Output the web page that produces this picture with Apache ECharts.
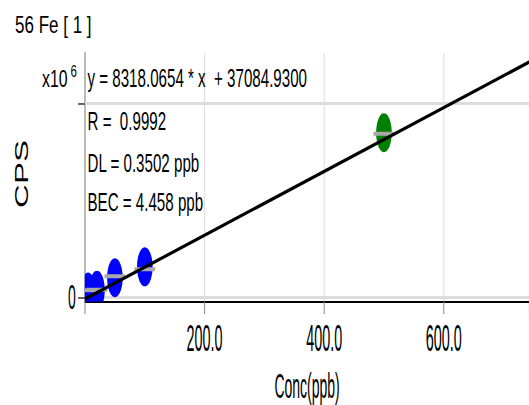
<!DOCTYPE html>
<html><head><meta charset="utf-8">
<script src="https://cdn.jsdelivr.net/npm/echarts@6/dist/echarts.min.js"></script>
<style>
html,body{margin:0;padding:0;overflow:hidden;background:#fff;width:529px;height:405px;}
#wrap{width:1323px;height:405px;transform:scaleX(0.4);transform-origin:0 0;}
</style></head><body>
<div id="wrap"></div>
<script>
// ---- data ----
const concStd = [5, 20, 50, 100, 500];                 // ppb
const cpsMarker = [140000, 190000, 510000, 790000, 4250000];
const cpsBar = [190000, 200000, 550000, 730000, 4220000];
const fitConc = [0, 743];
const fitCps = [-40000, 6070000];
const yTickValues = [0, 5000000];
const yLabelValues = [0];
const hGridValues = [0, 5000000];
const titleText = '56 Fe [ 1 ]';
const statLines = ['y = 8318.0654 * x  + 37084.9300', 'R =  0.9992', 'DL = 0.3502 ppb', 'BEC = 4.458 ppb'];
const xName = 'Conc(ppb)';
const yName = 'CPS';
const yUnit = 'x10';
const yUnitExp = '6';

// ---- styles ----
const SX = 0.4;
const FONT = 'Liberation Sans';
const pointColors = ['#0000ff', '#0000ff', '#0000ff', '#0000ff', '#008000'];
const statY = [77.5, 121, 162.5, 201.5];

const chart = echarts.init(document.getElementById('wrap'), null, {renderer: 'svg'});

const graphics = [
  {type: 'text', x: 15 / SX, y: 25, scaleX: 0.74 / SX, z: 100,
   style: {text: titleText, fontSize: 23, fontFamily: FONT, fill: '#000', align: 'left', verticalAlign: 'middle'}},
  {type: 'text', x: 42 / SX, y: 78.5, scaleX: 0.69 / SX, z: 100,
   style: {text: yUnit, fontSize: 23, fontFamily: FONT, fill: '#000', align: 'left', verticalAlign: 'middle'}},
  {type: 'text', x: 70.5 / SX, y: 71, scaleX: 0.72 / SX, z: 100,
   style: {text: yUnitExp, fontSize: 16, fontFamily: FONT, fill: '#000', align: 'left', verticalAlign: 'middle'}},
  {type: 'text', x: 21.7 / SX, y: 174, rotation: Math.PI / 2, scaleY: 1.4, z: 100,
   style: {text: yName, fontSize: 33, fontFamily: FONT, fill: '#000', align: 'center', verticalAlign: 'middle'}}
];
statLines.forEach((t, i) => {
  graphics.push({type: 'text', x: 87.5 / SX, y: statY[i], scaleX: 0.605 / SX, z: 100,
    style: {text: t, fontSize: 25, fontFamily: FONT, fill: '#000', align: 'left', verticalAlign: 'middle'}});
});

const option = {
  animation: false,
  backgroundColor: '#fff',
  grid: {left: 212.5, right: 0, top: 53.1, bottom: 103.6, containLabel: false, outerBoundsMode: 'none'},
  xAxis: {
    type: 'value', min: 0, max: 743, interval: 200,
    axisLine: {show: true, onZero: false, lineStyle: {color: '#000', width: 2}},
    axisTick: {show: true, length: 12.5, lineStyle: {color: '#888', width: 2.5}},
    axisLabel: {show: true, fontSize: 36, fontFamily: FONT, color: '#000', margin: 19,
      formatter: v => (v > 0 && v % 200 === 0) ? v.toFixed(1) : ''},
    splitLine: {show: true, showMinLine: false, showMaxLine: false, lineStyle: {color: '#dcdcdc', width: 2.5}},
    name: xName, nameLocation: 'middle', nameGap: 67,
    nameTextStyle: {fontSize: 35, fontFamily: FONT, color: '#000'}
  },
  yAxis: {
    type: 'value', min: -100000, max: 6300000,
    axisLine: {show: true, lineStyle: {color: '#777', width: 2.5}},
    axisTick: {show: true, customValues: yTickValues, length: 17.5, lineStyle: {color: '#333', width: 1.5}},
    axisLabel: {show: true, customValues: yLabelValues, fontSize: 35, fontFamily: FONT, color: '#000', margin: 23,
      formatter: v => String(v)},
    splitLine: {show: false}
  },
  graphic: {elements: graphics},
  series: [
    {
      type: 'line', data: [], z: 1, silent: true,
      markLine: {silent: true, symbol: 'none', z: 1, label: {show: false},
        lineStyle: {color: '#dcdcdc', width: 3, type: 'solid'},
        emphasis: {disabled: true},
        data: hGridValues.map(v => ({yAxis: v}))}
    },
    {
      type: 'custom', z: 2, clip: true, silent: true,
      data: concStd.map((c, i) => [c, cpsMarker[i], i]),
      renderItem: (params, api) => {
        const p = api.coord([api.value(0), api.value(1)]);
        return {type: 'circle', shape: {cx: p[0], cy: p[1], r: 19.5},
          style: {fill: pointColors[api.value(2)]}};
      }
    },
    {
      type: 'custom', z: 3, clip: true, silent: true,
      data: concStd.map((c, i) => [c, cpsBar[i]]),
      renderItem: (params, api) => {
        const p = api.coord([api.value(0), api.value(1)]);
        return {type: 'rect', shape: {x: p[0] - 26, y: p[1] - 2, width: 52, height: 4},
          style: {fill: '#a8a8a8'}};
      }
    },
    {
      type: 'line', z: 4, clip: true, silent: true, showSymbol: false, symbol: 'none',
      data: fitConc.map((c, i) => [c, fitCps[i]]),
      lineStyle: {color: '#000', width: 3.5}
    }
  ]
};
chart.setOption(option);
</script>
</body></html>
